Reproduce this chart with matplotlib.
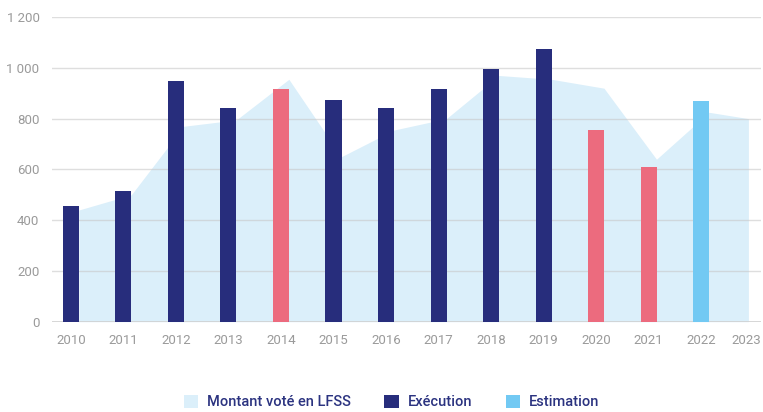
import matplotlib
matplotlib.use("Agg")
import matplotlib.pyplot as plt
import numpy as np
from matplotlib.patches import Patch

years = ["2010", "2011", "2012", "2013", "2014", "2015", "2016", "2017",
         "2018", "2019", "2020", "2021", "2022", "2023"]
lfss_voted = [440, 500, 770, 795, 955, 650, 755, 800, 970, 955, 920, 640, 825, 800]
bar_years = ["2010", "2011", "2012", "2013", "2014", "2015", "2016", "2017",
             "2018", "2019", "2020", "2021", "2022"]
bar_values = [455, 515, 950, 840, 915, 875, 840, 915, 995, 1075, 755, 610, 870]
bar_kind = ["exec", "exec", "exec", "exec", "under", "exec", "exec", "exec",
            "exec", "exec", "under", "under", "estim"]
yticks = [0, 200, 400, 600, 800, 1000, 1200]
ytick_labels = ["0", "200", "400", "600", "800", "1 000", "1 200"]
legend_labels = ["Montant voté en LFSS", "Exécution", "Estimation"]

C_AREA = "#dbeffa"
C_EXEC = "#272d7c"
C_UNDER = "#ec6b7e"
C_EST = "#72c9f3"
C_TICK = "#9a9a9a"
C_LEG = "#2b3380"
kind_color = {"exec": C_EXEC, "under": C_UNDER, "estim": C_EST}

plt.rcParams['font.family'] = ['Roboto', 'DejaVu Sans']

fig = plt.figure(figsize=(7.63, 4.12), dpi=100)
ax = fig.add_axes([52 / 763, 90.3 / 412, (761 - 52) / 763, (321.7 - 17.1) / 412])

pos = np.arange(len(years), dtype=float)
area_x = pos + 0.15
area_x[-1] = pos[-1] - 0.1
ax.fill_between(area_x, 0, lfss_voted, color=C_AREA, lw=0, zorder=1)

for yv in yticks[1:]:
    ax.axhline(yv, color="#c8c8c8", lw=1, alpha=0.6, zorder=2)
ax.axhline(0, color="#d0d0d0", lw=1.2, zorder=2)

bar_pos = [years.index(y) for y in bar_years]
ax.bar(bar_pos, bar_values, width=0.305,
       color=[kind_color[k] for k in bar_kind], zorder=3)

ax.set_xlim(-0.36, 13.14)
ax.set_ylim(0, 1200)
tick_pos = pos.copy()
tick_pos[-1] = 12.85
ax.set_xticks(tick_pos)
ax.set_xticklabels(years)
ax.set_yticks(yticks)
ax.set_yticklabels(ytick_labels)
ax.tick_params(axis='both', length=0, labelsize=9.5, colors=C_TICK)
ax.tick_params(axis='x', pad=9)
ax.tick_params(axis='y', pad=9)
for s in ax.spines.values():
    s.set_visible(False)

handles = [Patch(facecolor=C_AREA, edgecolor='none'),
           Patch(facecolor=C_EXEC, edgecolor='none'),
           Patch(facecolor=C_EST, edgecolor='none')]
leg = fig.legend(handles, legend_labels, loc='center', bbox_to_anchor=(0.513, 0.024),
                 ncol=3, frameon=False, prop={'size': 10.5, 'weight': 'medium'},
                 handlelength=1.0, handleheight=1.0,
                 handletextpad=0.6, columnspacing=2.3, labelcolor=C_LEG)

fig.savefig("out.png", dpi=100)
